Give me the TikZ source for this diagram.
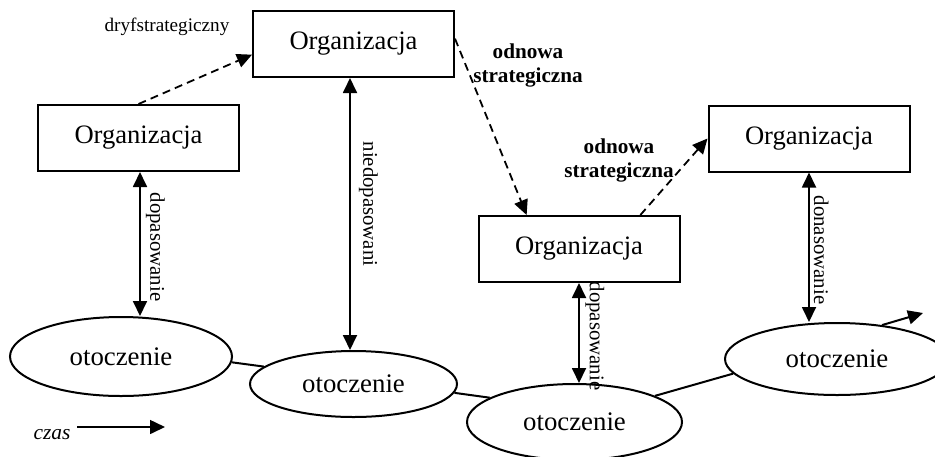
\documentclass[tikz,border=0pt]{standalone}
\usepackage{fontspec}
\setmainfont{Liberation Serif}
\usetikzlibrary{arrows.meta,shapes.geometric}
\begin{document}
\begin{tikzpicture}[x=0.5pt,y=-0.5pt,
  org/.style={draw,line width=1pt,minimum width=100.5pt,minimum height=33pt,inner sep=0pt,
    font=\fontsize{13.3}{15}\selectfont},
  env/.style={draw,ellipse,line width=1pt,inner sep=0pt,font=\fontsize{13.4}{15}\selectfont},
  tip/.style={-{Triangle[length=7.5pt,width=7pt]}},
  dtip/.style={{Triangle[length=7.5pt,width=7pt]}-{Triangle[length=7.5pt,width=7pt]}},
  fitline/.style={line width=0.9pt},
  drift/.style={line width=0.9pt,dash pattern=on 4pt off 2.6pt},
  vlab/.style={rotate=-90,anchor=south,inner sep=0pt,font=\fontsize{10.4}{12}\selectfont},
  blab/.style={align=center,inner sep=0pt,font=\fontsize{10.6}{12}\selectfont\bfseries},
  link/.style={line width=1pt}]
\clip (0,0) rectangle (935,456);
% organisations
\node[org] (b1) at (138.5,138) {Organizacja};
\node[org] (b2) at (353.5,44) {Organizacja};
\node[org] (b3) at (579,249) {Organizacja};
\node[org] (b4) at (809,138.5) {Organizacja};
% environments
\node[env,minimum width=111pt,minimum height=39.5pt] (e1) at (121,356.5) {otoczenie};
\node[env,minimum width=103.5pt,minimum height=33pt] (e2) at (353.5,384) {otoczenie};
\node[env,minimum width=107.5pt,minimum height=38pt] (e3) at (574.5,422) {otoczenie};
\node[env,minimum width=112pt,minimum height=36pt] (e4) at (837,359) {otoczenie};
% time path
\coordinate (pend) at (923,313);
\draw[link] (e1.-3) -- (e2.169);
\draw[link] (e2.-5) -- (e3.164);
\draw[link] (e3.18) -- (e4.-172);
\draw[link,tip] (e4.37) -- (pend);
% fit arrows
\draw[fitline,dtip] (b1.south -| 140,0) -- (e1.north -| 140,0);
\draw[fitline,dtip] (b2.south -| 350,0) -- (e2.north -| 350,0);
\draw[fitline,dtip] (b3.south) -- (e3.north -| b3.south);
\draw[fitline,dtip] (b4.south) -- (e4.north -| b4.south);
\node[vlab] (l1) at (145.5,247) {dopasowanie};
\node[vlab] (l2) at (358.5,204) {niedopasowani};
\node[vlab] (l3) at (585,336) {dopasowanie};
\node[vlab] (l4) at (813.5,250) {donasowanie};
% strategic moves
\draw[drift,tip] (b1.north) -- (b2.186);
\draw[drift,tip] (b2.3) -- (b3.147);
\draw[drift,tip] (b3.29.6) -- (b4.west);
\node[font=\fontsize{9.6}{11}\selectfont,inner sep=0pt] (drf) at (167,27) {dryfstrategiczny};
\node[blab] (r1) at (528,65) {odnowa\\strategiczna};
\node[blab] (r2) at (619,160) {odnowa\\strategiczna};
% time
\node[font=\fontsize{10.7}{12}\selectfont\itshape,inner sep=0pt,anchor=base] (czas) at (52,439) {czas};
\coordinate (cs) at (77,427);
\coordinate (ce) at (165,427);
\draw[line width=0.8pt,tip] (cs) -- (ce);
\end{tikzpicture}
\end{document}
